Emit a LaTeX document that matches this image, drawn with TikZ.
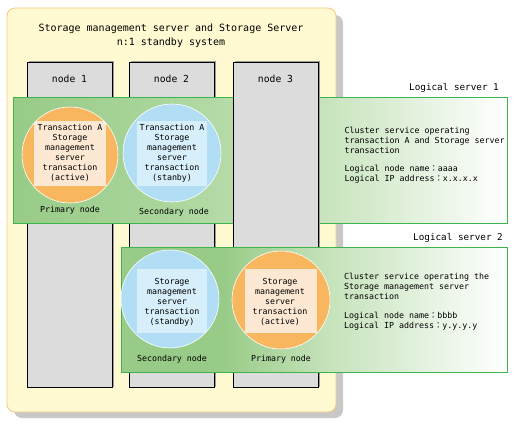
\documentclass[tikz,border=0pt]{standalone}
\usepackage{fontspec}
\setmonofont{DejaVu Sans Mono}
\newfontfamily\cjk{Noto Sans CJK JP}
\definecolor{bgyel}{HTML}{FFFAD2}
\definecolor{bgedge}{HTML}{F5C983}
\definecolor{shadowgray}{HTML}{C8C8C8}
\definecolor{colfill}{HTML}{DCDCDC}
\definecolor{colshadow}{HTML}{9A9A9A}
\definecolor{grA}{HTML}{98CB87}
\definecolor{grB}{HTML}{A9D59B}
\definecolor{grC}{HTML}{C6E3BB}
\definecolor{grEdge}{HTML}{3DB54E}
\definecolor{orC}{HTML}{F8B75E}
\definecolor{orIn}{HTML}{FDE9D3}
\definecolor{blC}{HTML}{B2DEF5}
\definecolor{blIn}{HTML}{D6EFFB}
\pgfdeclarehorizontalshading{lsone}{100bp}{color(0bp)=(grA); color(25bp)=(grA); color(40bp)=(grB); color(56bp)=(grC); color(75bp)=(white); color(100bp)=(white)}
\pgfdeclarehorizontalshading{lstwo}{100bp}{color(0bp)=(grA); color(25bp)=(grA); color(38bp)=(grA); color(52bp)=(grC); color(75bp)=(white); color(100bp)=(white)}
\tikzset{
  every node/.style={font=\ttfamily, inner sep=0pt, text=black},
  column/.style={fill=colfill, draw=black, line width=0.8pt},
  colshad/.style={fill=colshadow},
  lsbox/.style={draw=grEdge, line width=1pt},
  circtext/.style={font=\ttfamily\fontsize{8.3}{10}\selectfont, align=center},
  smalltext/.style={font=\ttfamily\fontsize{8.3}{10}\selectfont, align=left, anchor=north west},
  nodelabel/.style={font=\ttfamily\fontsize{9.7}{11}\selectfont},
  hostlabel/.style={font=\ttfamily\fontsize{8.3}{10}\selectfont},
}
\begin{document}
\begin{tikzpicture}[x=1pt,y=-1pt]
\useasboundingbox (0,0) rectangle (518,433);
% outer system box
\fill[shadowgray, rounded corners=8pt] (14,15) rectangle (343,418);
\draw[bgedge, fill=bgyel, line width=0.8pt, rounded corners=8pt] (7,8) rectangle (336,412);
\node[font=\ttfamily\fontsize{10}{14.5}\selectfont, align=center] (title) at (171,35.5) {Storage management server and Storage Server\\n:1 standby system};
% node columns
\fill[colshad] (28.5,61) rectangle (114,387);
\draw[column] (27,62) rectangle (112,387);
\fill[colshad] (130.5,61) rectangle (216,387);
\draw[column] (129,62) rectangle (214,387);
\node[nodelabel] (n1) at (69.5,79) {node 1};
\node[nodelabel] (n2) at (171.5,79) {node 2};
% logical server 1
\shade[shading=lsone, draw=grEdge, line width=1pt] (13,97) rectangle (507,223);
% node 3 column above logical server 1
\fill[colshad] (234.5,61) rectangle (320,387);
\draw[column] (233,62) rectangle (318,387);
\node[nodelabel] (n3) at (275.5,79) {node 3};
\node[font=\ttfamily\fontsize{9.3}{11}\selectfont, anchor=east] (ls1) at (499,87.5) {Logical server 1};
% circles server 1
\fill[orC] (70,155) circle (48);
\begin{scope}
\clip (70,155) circle (48);
\fill[orIn] (34,121) rectangle (106,186);
\end{scope}
\draw[white, line width=0.6pt] (70,155) circle (48);
\node[circtext] (t1a) at (70,153) {Transaction A\\Storage\\management\\server\\transaction\\(active)};
\fill[blC] (172,153) circle (49);
\begin{scope}
\clip (172,153) circle (49);
\fill[blIn] (137,121) rectangle (207,186);
\end{scope}
\draw[white, line width=0.6pt] (172,153) circle (49);
\node[circtext] (t1b) at (172,153) {Transaction A\\Storage\\management\\server\\transaction\\(stanby)};
\node[hostlabel] (p1) at (70,210) {Primary node};
\node[hostlabel] (s1) at (174,212.5) {Secondary node};
\node[smalltext] (d1) at (344.5,126.5) {Cluster service operating\\transaction A and Storage server\\transaction};
\node[smalltext] (e1) at (344.5,165) {Logical node name{\cjk ：}aaaa\\Logical IP address{\cjk ：}x.x.x.x};
% logical server 2
\node[font=\ttfamily\fontsize{9.3}{11}\selectfont, anchor=east] (ls2) at (503,237.5) {Logical server 2};
\shade[shading=lstwo, draw=grEdge, line width=1pt] (121,247) rectangle (507,372);
\fill[blC] (170,299) circle (49);
\begin{scope}
\clip (170,299) circle (49);
\fill[blIn] (137,269) rectangle (207,333);
\end{scope}
\draw[white, line width=0.6pt] (170,299) circle (49);
\node[circtext] (t2a) at (172,302) {Storage\\management\\server\\transaction\\(standby)};
\fill[orC] (281,300) circle (49);
\begin{scope}
\clip (281,300) circle (49);
\fill[orIn] (245,269) rectangle (317,333);
\end{scope}
\draw[white, line width=0.6pt] (281,300) circle (49);
\node[circtext] (t2b) at (280,302) {Storage\\management\\server\\transaction\\(active)};
\node[hostlabel] (s2) at (172,359) {Secondary node};
\node[hostlabel] (p2) at (281,359) {Primary node};
\node[smalltext] (d2) at (344,273) {Cluster service operating the\\Storage management server\\transaction};
\node[smalltext] (e2) at (344,311.5) {Logical node name{\cjk ：}bbbb\\Logical IP address{\cjk ：}y.y.y.y};
\end{tikzpicture}
\end{document}
